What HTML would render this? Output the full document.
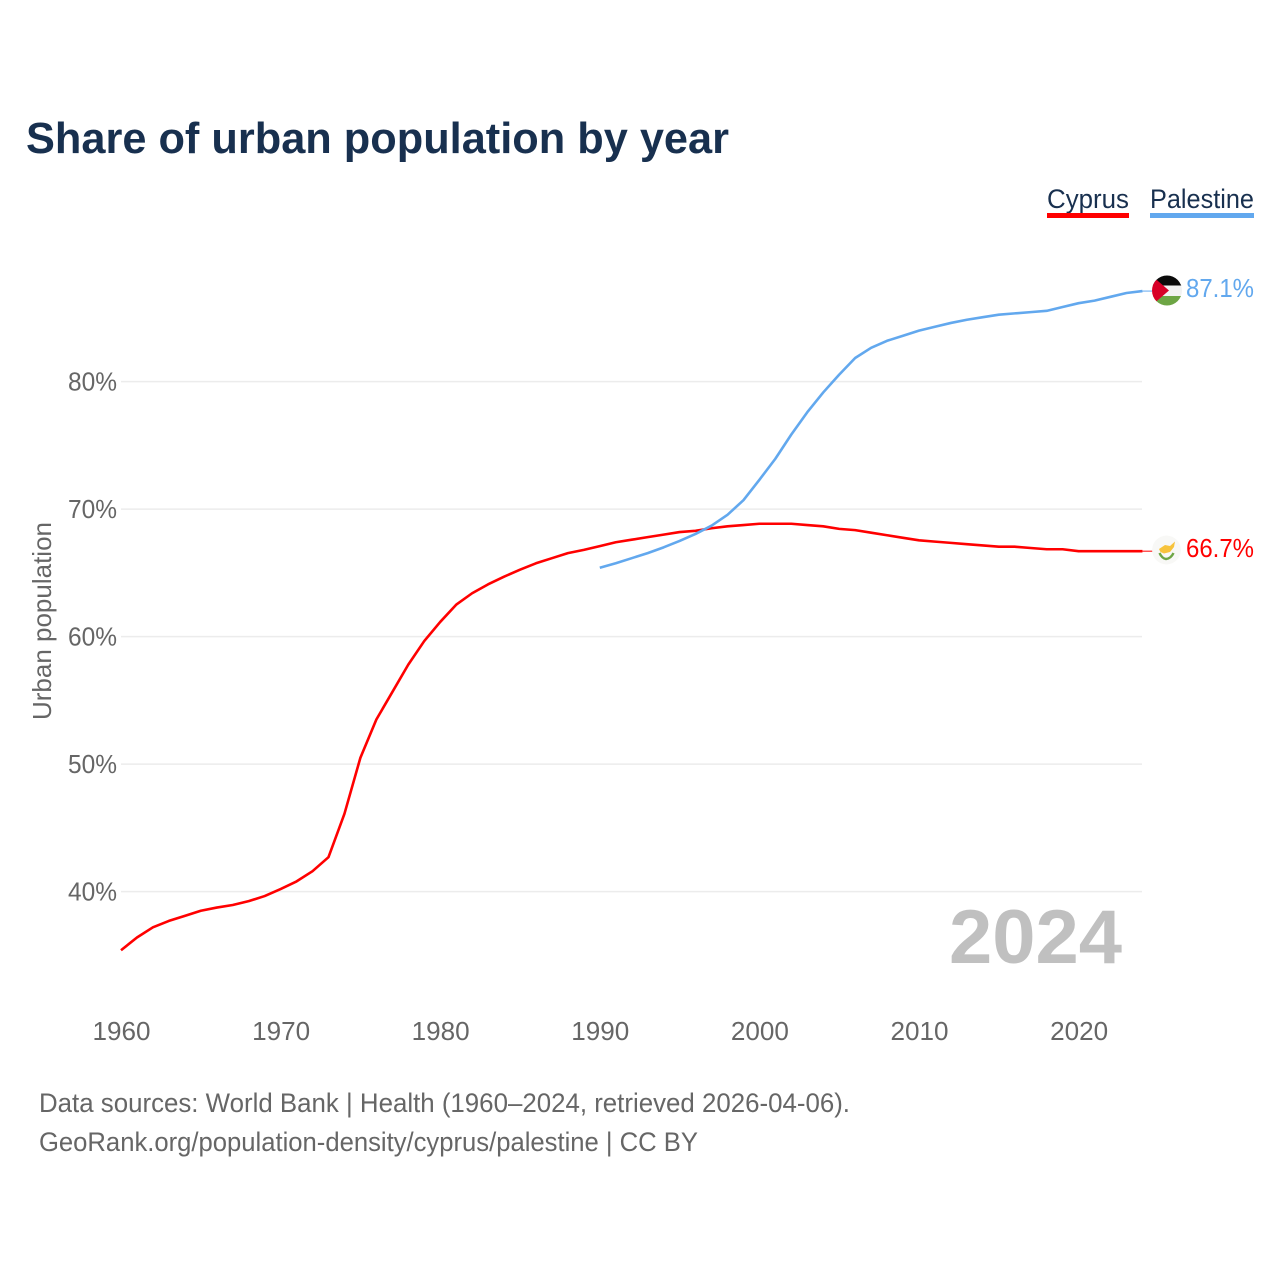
<!DOCTYPE html>
<html lang="en">
<head>
<meta charset="utf-8">
<title>Share of urban population by year</title>
<style>
html,body{margin:0;padding:0;background:#fff;width:1280px;height:1280px;overflow:hidden}
svg{display:block}
text{font-family:"Liberation Sans",sans-serif}
</style>
</head>
<body>
<svg id="chart" xmlns="http://www.w3.org/2000/svg" width="1280" height="1280" viewBox="0 0 1280 1280">
  <defs>
    <clipPath id="clip-ps"><circle cx="1167" cy="290.5" r="15"/></clipPath>
    <clipPath id="clip-cy"><circle cx="1166.5" cy="550" r="14.5"/></clipPath>
  </defs>
  <text x="26" y="153" font-size="44" font-weight="700" fill="#18304f" textLength="703" lengthAdjust="spacingAndGlyphs">Share of urban population by year</text>

  <g>
    <text x="1047" y="208" font-size="27" fill="#18304f" textLength="82" lengthAdjust="spacingAndGlyphs">Cyprus</text>
    <rect x="1047" y="213" width="82" height="5" fill="#ff0000"/>
  </g>
  <g>
    <text x="1150" y="208" font-size="27" fill="#18304f" textLength="104" lengthAdjust="spacingAndGlyphs">Palestine</text>
    <rect x="1150" y="213" width="104" height="5" fill="#62a8ee"/>
  </g>

  <g id="grid"></g>
  <g id="yticks"></g>
  <g id="xticks"></g>
  <text transform="translate(51,720) rotate(-90)" font-size="26" fill="#666666" textLength="198" lengthAdjust="spacingAndGlyphs">Urban population</text>

  <text x="949" y="963" font-size="76" font-weight="700" fill="#c0c0c0" textLength="173" lengthAdjust="spacingAndGlyphs">2024</text>

  <g id="series"></g>

  <g clip-path="url(#clip-ps)">
    <rect x="1151" y="275" width="32" height="11" fill="#0b0b0b"/>
    <rect x="1151" y="285.5" width="32" height="10.5" fill="#f2f2f2"/>
    <rect x="1151" y="296" width="32" height="11" fill="#6da544"/>
    <polygon points="1151,275 1169,290.5 1151,306" fill="#d80027"/>
  </g>
  <g clip-path="url(#clip-cy)">
    <circle cx="1166.5" cy="550" r="14.5" fill="#f8f8f6"/>
    <path d="M1159 549 L1165 545 L1170 546 L1175 541.5 L1174 547 L1170 552 L1164 553.5 L1160.5 552 Z" fill="#f7c33c"/>
    <path d="M1159.5 553 Q1162 558.5 1166 559 Q1171 558.5 1173.5 553" fill="none" stroke="#6da544" stroke-width="2.4"/>
  </g>

  <text x="1186" y="297" font-size="26" fill="#62a8ee" textLength="68" lengthAdjust="spacingAndGlyphs">87.1%</text>
  <text x="1186" y="557" font-size="26" fill="#ff0000" textLength="68" lengthAdjust="spacingAndGlyphs">66.7%</text>

  <text x="39" y="1112" font-size="27" fill="#666666" textLength="811" lengthAdjust="spacingAndGlyphs">Data sources: World Bank | Health (1960–2024, retrieved 2026-04-06).</text>
  <text x="39" y="1151" font-size="27" fill="#666666" textLength="659" lengthAdjust="spacingAndGlyphs">GeoRank.org/population-density/cyprus/palestine | CC BY</text>
</svg>
<script>
const yTickValues = [40, 50, 60, 70, 80];
const xTickValues = [1960, 1970, 1980, 1990, 2000, 2010, 2020];
const cyprusStartYear = 1960;
const cyprusValues = [35.4,36.4,37.2,37.7,38.1,38.5,38.75,38.95,39.25,39.65,40.2,40.8,41.6,42.7,46.1,50.5,53.5,55.65,57.8,59.65,61.15,62.5,63.4,64.1,64.7,65.25,65.75,66.15,66.55,66.8,67.1,67.4,67.6,67.8,68,68.2,68.3,68.5,68.65,68.75,68.85,68.85,68.85,68.75,68.65,68.45,68.35,68.15,67.95,67.75,67.55,67.45,67.35,67.25,67.15,67.05,67.05,66.95,66.85,66.85,66.7,66.7,66.7,66.7,66.7];
const palestineStartYear = 1990;
const palestineValues = [65.4,65.75,66.15,66.55,67,67.5,68.05,68.7,69.55,70.7,72.3,73.95,75.85,77.6,79.15,80.55,81.85,82.65,83.2,83.6,84,84.3,84.6,84.85,85.05,85.25,85.35,85.45,85.55,85.85,86.15,86.35,86.65,86.95,87.1];

const SVG_NS = 'http://www.w3.org/2000/svg';
const xScale = year => 121 + (year - 1960) * 15.96;
const yScale = pct => 891.6 - (pct - 40) * 12.75;

const grid = document.getElementById('grid');
const yticks = document.getElementById('yticks');
const xticks = document.getElementById('xticks');
const series = document.getElementById('series');

yTickValues.forEach(v => {
  const line = document.createElementNS(SVG_NS, 'line');
  
  
  line.setAttribute('x1', 121);
  line.setAttribute('x2', 1142);
  line.setAttribute('y1', yScale(v));
  line.setAttribute('y2', yScale(v));
  line.setAttribute('stroke', '#ececec');
  line.setAttribute('stroke-width', 1.5);
  grid.appendChild(line);

  const label = document.createElementNS(SVG_NS, 'text');
  
  
  label.setAttribute('x', 117);
  label.setAttribute('y', yScale(v) + 9);
  label.setAttribute('text-anchor', 'end');
  label.setAttribute('font-size', 26);
  label.setAttribute('fill', '#666666');
  label.setAttribute('textLength', 49);
  label.setAttribute('lengthAdjust', 'spacingAndGlyphs');
  label.textContent = v + '%';
  yticks.appendChild(label);
});

xTickValues.forEach(v => {
  const label = document.createElementNS(SVG_NS, 'text');
  
  
  label.setAttribute('x', xScale(v) + 0.5);
  label.setAttribute('y', 1040);
  label.setAttribute('text-anchor', 'middle');
  label.setAttribute('font-size', 26);
  label.setAttribute('fill', '#666666');
  label.setAttribute('textLength', 58);
  label.setAttribute('lengthAdjust', 'spacingAndGlyphs');
  label.textContent = v;
  xticks.appendChild(label);
});

function addSeries(values, startYear, color, name) {
  const pts = values.map((v, i) => xScale(startYear + i).toFixed(2) + ',' + yScale(v).toFixed(2));
  const line = document.createElementNS(SVG_NS, 'polyline');
  
  
  line.setAttribute('points', pts.join(' '));
  line.setAttribute('fill', 'none');
  line.setAttribute('stroke', color);
  line.setAttribute('stroke-width', 2.6);
  line.setAttribute('stroke-linejoin', 'round');
  series.appendChild(line);

  const lastYear = startYear + values.length - 1;
  const lastY = yScale(values[values.length - 1]);
  const leader = document.createElementNS(SVG_NS, 'line');
  
  
  leader.setAttribute('x1', xScale(lastYear));
  leader.setAttribute('x2', xScale(lastYear) + 10);
  leader.setAttribute('y1', lastY);
  leader.setAttribute('y2', lastY);
  leader.setAttribute('stroke', color);
  leader.setAttribute('stroke-width', 1);
  series.appendChild(leader);
}

addSeries(cyprusValues, cyprusStartYear, '#ff0000', 'line-cyprus');
addSeries(palestineValues, palestineStartYear, '#62a8ee', 'line-palestine');
</script>
</body>
</html>
